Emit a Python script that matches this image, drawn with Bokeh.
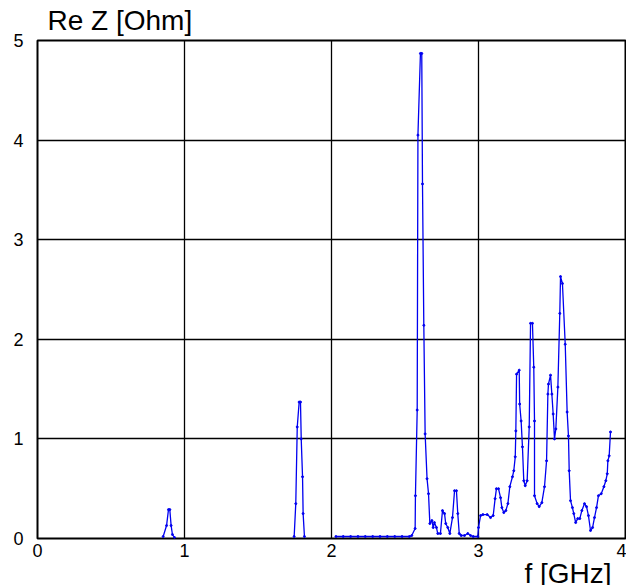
from bokeh.plotting import figure
from bokeh.models import FixedTicker, Range1d, Title
from bokeh.embed import file_html
from bokeh.resources import INLINE

# Frequency [GHz] and Re Z [Ohm], three separate segments
f1 = [0.855, 0.878, 0.891, 0.900, 0.909, 0.918, 0.932]
z1 = [0.02, 0.13, 0.29, 0.29, 0.13, 0.04, 0.01]

f2 = [1.746, 1.757, 1.767, 1.780, 1.789, 1.794, 1.803, 1.807, 1.816]
z2 = [0.02, 0.35, 1.12, 1.37, 1.37, 1.00, 0.62, 0.25, 0.02]

f3 = [2.03, 2.08, 2.13, 2.18, 2.23, 2.28, 2.33, 2.38, 2.43, 2.48, 2.53, 2.546,
      2.569, 2.571, 2.583, 2.588, 2.605, 2.614, 2.619, 2.628, 2.637, 2.650,
      2.660, 2.669, 2.683, 2.692, 2.700, 2.714, 2.723, 2.741, 2.755, 2.769,
      2.777, 2.791, 2.805, 2.823, 2.837, 2.850, 2.859, 2.869, 2.882, 2.905,
      2.927, 2.946, 2.964, 2.995, 3.000, 3.014, 3.030, 3.059, 3.082, 3.100,
      3.113, 3.122, 3.136, 3.150, 3.159, 3.172, 3.186, 3.200, 3.213, 3.231,
      3.240, 3.250, 3.254, 3.259, 3.277, 3.280, 3.290, 3.299, 3.308, 3.318,
      3.331, 3.345, 3.354, 3.367, 3.376, 3.381, 3.381, 3.399, 3.413, 3.431,
      3.449, 3.463, 3.472, 3.476, 3.490, 3.499, 3.508, 3.517, 3.526, 3.540,
      3.553, 3.558, 3.571, 3.590, 3.603, 3.612, 3.617, 3.626, 3.639, 3.648,
      3.661, 3.675, 3.689, 3.703, 3.721, 3.735, 3.748, 3.762, 3.776, 3.789,
      3.803, 3.816, 3.835, 3.853, 3.866, 3.876, 3.880, 3.889, 3.898]
z3 = [0.02, 0.02, 0.02, 0.02, 0.02, 0.02, 0.02, 0.02, 0.02, 0.02, 0.02, 0.03,
      0.10, 0.43, 1.29, 4.05, 4.87, 4.87, 3.56, 2.14, 1.05, 0.60,
      0.45, 0.15, 0.18, 0.11, 0.16, 0.11, 0.05, 0.05, 0.28, 0.25,
      0.15, 0.11, 0.05, 0.21, 0.48, 0.48, 0.25, 0.05, 0.03, 0.03,
      0.05, 0.03, 0.02, 0.02, 0.11, 0.23, 0.24, 0.24, 0.21, 0.23,
      0.40, 0.50, 0.50, 0.41, 0.31, 0.26, 0.28, 0.35, 0.52, 0.62,
      0.68, 0.82, 1.08, 1.65, 1.69, 1.35, 1.18, 0.92, 0.58, 0.53,
      0.58, 1.12, 2.16, 2.16, 1.72, 1.18, 0.43, 0.35, 0.32, 0.36,
      0.52, 0.78, 1.45, 1.55, 1.64, 1.45, 1.25, 1.00, 1.10, 1.52,
      2.26, 2.63, 2.56, 1.95, 1.27, 1.03, 0.68, 0.38, 0.31, 0.25,
      0.16, 0.20, 0.20, 0.28, 0.35, 0.32, 0.23, 0.08, 0.11, 0.21,
      0.31, 0.43, 0.45, 0.52, 0.58, 0.65, 0.78, 0.83, 1.07]

x_ticks = [0, 1, 2, 3, 4]
y_ticks = [0, 1, 2, 3, 4, 5]
x_title = "f [GHz]"
y_title = "Re Z [Ohm]"

FONT = "Liberation Sans"
LINE = "#0000f0"

p = figure(width=626, height=585, output_backend="svg", toolbar_location=None,
           x_range=Range1d(0, 4), y_range=Range1d(0, 5),
           min_border_left=37, min_border_right=1, min_border_top=40,
           min_border_bottom=47)
p.background_fill_color = "white"
p.border_fill_color = "white"
p.outline_line_color = "black"
p.outline_line_width = 2

for ax in (p.xaxis[0], p.yaxis[0]):
    ax.axis_line_color = None
    ax.major_tick_line_color = None
    ax.minor_tick_line_color = None
    ax.major_tick_out = 0
    ax.major_tick_in = 0
    ax.minor_tick_out = 0
    ax.minor_tick_in = 0
    ax.major_label_text_font = FONT
    ax.major_label_text_font_size = "18px"
    ax.major_label_text_color = "black"
p.xaxis[0].ticker = FixedTicker(ticks=x_ticks)
p.yaxis[0].ticker = FixedTicker(ticks=y_ticks)
p.xaxis[0].major_label_standoff = 5
p.yaxis[0].major_label_standoff = 14

p.xgrid[0].ticker = FixedTicker(ticks=x_ticks)
p.ygrid[0].ticker = FixedTicker(ticks=y_ticks)
for g in (p.xgrid[0], p.ygrid[0]):
    g.grid_line_color = "black"
    g.grid_line_width = 1.3
    g.grid_line_alpha = 1.0

for fx, zy in ((f1, z1), (f2, z2), (f3, z3)):
    p.line(fx, zy, line_color=LINE, line_width=1.3)
    p.scatter(fx, zy, size=2, color=LINE)

# small blank spacer between the frame and the y title, so the title sits higher
p.add_layout(Title(text=" ", standoff=0, text_font=FONT, text_font_size="3px",
                   text_color="white"), "above")
p.add_layout(Title(text=y_title, align="left", offset=10, standoff=0,
                   text_font=FONT, text_font_size="28px",
                   text_font_style="normal", text_color="black"), "above")
p.add_layout(Title(text=x_title, align="right", offset=14, standoff=-7,
                   text_font=FONT, text_font_size="28px",
                   text_font_style="normal", text_color="black"), "below")

open("out.html", "w").write(file_html(p, INLINE))
